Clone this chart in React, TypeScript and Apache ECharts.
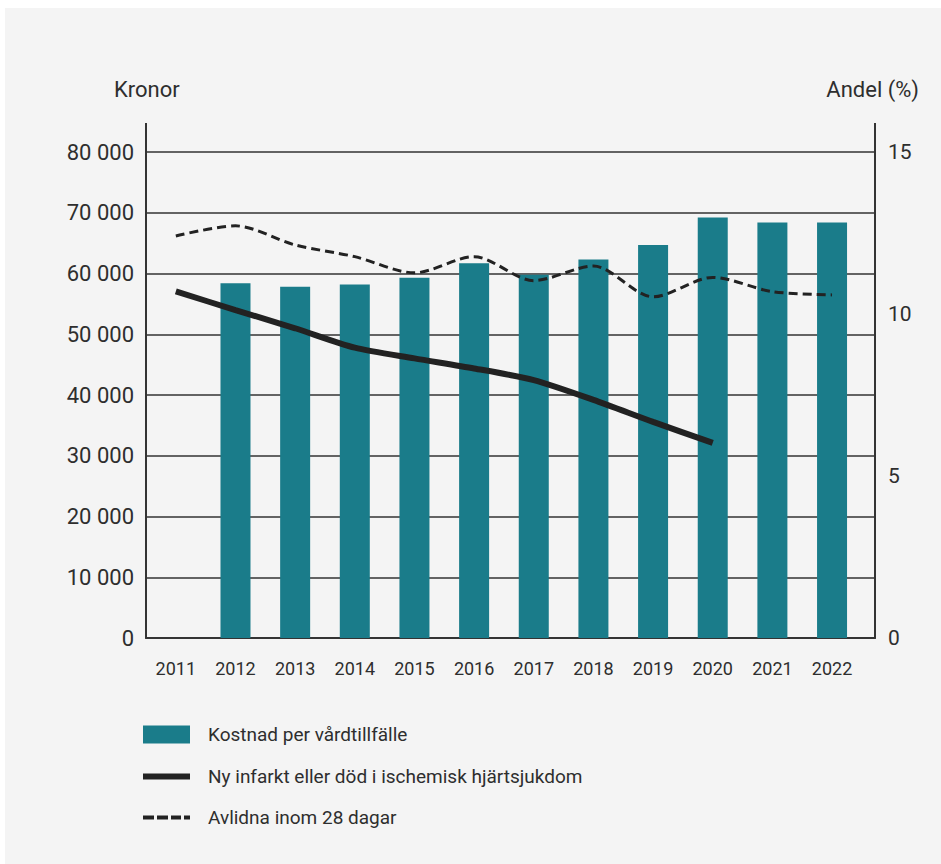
import React, { useEffect, useRef } from "react";
import * as echarts from "echarts";

const years = ["2011", "2012", "2013", "2014", "2015", "2016", "2017", "2018", "2019", "2020", "2021", "2022"];
const costPerCase = [null, 58400, 57800, 58200, 59300, 61700, 59800, 62300, 64700, 69200, 68400, 68400];
const newInfarctShare = [10.7, 10.12, 9.56, 8.96, 8.63, 8.32, 7.96, 7.35, 6.67, 6.02, null, null];
const deceased28Share = [12.41, 12.72, 12.13, 11.77, 11.27, 11.77, 11.03, 11.48, 10.53, 11.13, 10.69, 10.59];
const leftTicks = { min: 0, max: 80000, interval: 10000 };
const rightTicks = { min: 0, max: 15, interval: 5 };

const seriesNames = ["Kostnad per vårdtillfälle", "Ny infarkt eller död i ischemisk hjärtsjukdom", "Avlidna inom 28 dagar"];

const FONT = "Roboto";
const TXT = "#2e2e2e";

function fmtThousands(v: number) {
  return String(v).replace(/\B(?=(\d{3})+(?!\d))/g, " ");
}

export default function App() {
  const ref = useRef<HTMLDivElement>(null);
  useEffect(() => {
    document.body.style.margin = "0";
    const chart = echarts.init(ref.current!, null, { renderer: "svg" });
    const gridLeft = 146;
    const gridRight = 66;
    const gridTop = 152;
    const gridBottom = 226;
    const xs = years.map((y) => Number(y));
    const legendText = { fontFamily: FONT, fontSize: 19, color: TXT, padding: [0, 0, 0, 13] };
    const legendBase = { left: 138, itemWidth: 47, selectedMode: false, textStyle: legendText };
    chart.setOption({
      animation: false,
      backgroundColor: "#ffffff",
      textStyle: { fontFamily: FONT },
      graphic: [
        { type: "rect", z: -10, shape: { x: 5, y: 8, width: 936, height: 856 }, style: { fill: "#f4f4f4" } },
        { type: "line", shape: { x1: gridLeft, y1: 123, x2: gridLeft, y2: gridTop }, style: { stroke: "#333", lineWidth: 2 } },
        { type: "line", shape: { x1: 941 - gridRight, y1: 123, x2: 941 - gridRight, y2: gridTop }, style: { stroke: "#333", lineWidth: 2 } },
      ],
      title: [
        { text: "Kronor", left: 109, top: 73, textStyle: { fontFamily: FONT, fontSize: 22, fontWeight: "normal", color: TXT } },
        { text: "Andel (%)", right: 17, top: 73, textStyle: { fontFamily: FONT, fontSize: 22, fontWeight: "normal", color: TXT } },
      ],
      grid: { left: gridLeft, right: gridRight, top: gridTop, bottom: gridBottom, containLabel: false },
      legend: [
        { ...legendBase, top: 720, itemHeight: 18, data: [{ name: seriesNames[0], icon: "rect" }] },
        { ...legendBase, top: 762, itemHeight: 6, data: [{ name: seriesNames[1], icon: "rect", itemStyle: { color: "#222" } }] },
        {
          ...legendBase,
          top: 803,
          itemHeight: 4,
          data: [
            {
              name: seriesNames[2],
              icon: "path://M0,0h11v4h-11z M14,0h11v4h-11z M28,0h10v4h-10z M41,0h6v4h-6z",
              itemStyle: { color: "#222" },
            },
          ],
        },
      ],
      xAxis: {
        type: "value",
        min: 2010.5,
        max: 2022.72,
        splitLine: { show: false },
        axisTick: { show: false },
        axisLine: { show: true, lineStyle: { color: "#333", width: 2 } },
        axisLabel: {
          customValues: xs,
          formatter: (v: number) => String(v),
          fontFamily: FONT,
          fontSize: 18,
          color: TXT,
          margin: 21,
        },
      },
      yAxis: [
        {
          type: "value",
          min: leftTicks.min,
          max: leftTicks.max,
          interval: leftTicks.interval,
          axisLine: { show: true, lineStyle: { color: "#333", width: 2 } },
          axisTick: { show: false },
          splitLine: { show: true, lineStyle: { color: "#333", width: 1.5 } },
          axisLabel: { formatter: (v: number) => fmtThousands(v), fontFamily: FONT, fontSize: 22, color: TXT, margin: 12 },
        },
        {
          type: "value",
          position: "right",
          min: rightTicks.min,
          max: rightTicks.max,
          interval: rightTicks.interval,
          axisLine: { show: true, lineStyle: { color: "#333", width: 2 } },
          axisTick: { show: false },
          splitLine: { show: false },
          axisLabel: { fontFamily: FONT, fontSize: 21, color: TXT, margin: 13 },
        },
      ],
      series: [
        {
          name: seriesNames[0],
          type: "bar",
          yAxisIndex: 0,
          barWidth: 30,
          itemStyle: { color: "#1a7c8a" },
          data: xs.map((x, i) => [x, costPerCase[i]]),
        },
        {
          name: seriesNames[1],
          type: "line",
          yAxisIndex: 1,
          symbol: "none",
          smooth: 0.25,
          lineStyle: { color: "#222", width: 6 },
          itemStyle: { color: "#222" },
          data: xs.map((x, i) => [x, newInfarctShare[i]]),
        },
        {
          name: seriesNames[2],
          type: "line",
          yAxisIndex: 1,
          symbol: "none",
          smooth: 0.3,
          lineStyle: { color: "#222", width: 3, type: [9, 5] },
          itemStyle: { color: "#222" },
          data: xs.map((x, i) => [x, deceased28Share[i]]),
        },
      ],
    });
    return () => chart.dispose();
  }, []);
  return <div ref={ref} style={{ position: "absolute", left: 0, top: 0, width: 941, height: 864 }} />;
}
